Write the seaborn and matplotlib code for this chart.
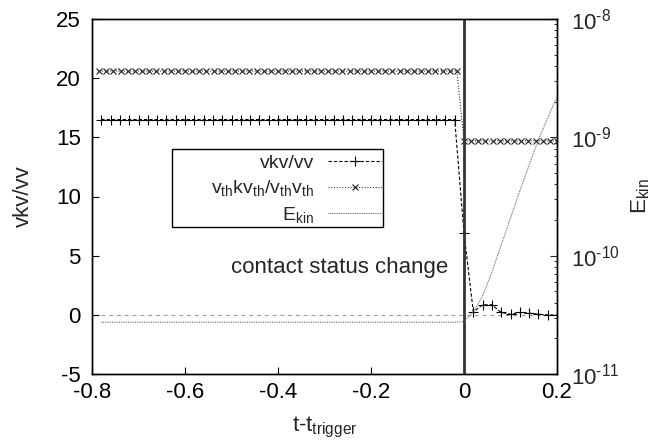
import matplotlib
matplotlib.use("Agg")
import matplotlib.pyplot as plt
import numpy as np
import pandas as pd
import seaborn as sns
from matplotlib.patches import Rectangle
from matplotlib.lines import Line2D
from matplotlib.ticker import FixedLocator, FixedFormatter, LogLocator, NullFormatter

# ---------------- data ----------------
# vkv/vv and E_kin sampled every 0.02
t_pre = [-0.78, -0.76, -0.74, -0.72, -0.70, -0.68, -0.66, -0.64, -0.62, -0.60,
         -0.58, -0.56, -0.54, -0.52, -0.50, -0.48, -0.46, -0.44, -0.42, -0.40,
         -0.38, -0.36, -0.34, -0.32, -0.30, -0.28, -0.26, -0.24, -0.22, -0.20,
         -0.18, -0.16, -0.14, -0.12, -0.10, -0.08, -0.06, -0.04, -0.02]
t_post = [0.0, 0.02, 0.04, 0.06, 0.08, 0.10, 0.12, 0.14, 0.16, 0.18, 0.20]

vkv_pre = [16.5] * len(t_pre)
vkv_post = [6.9, 0.25, 0.85, 0.85, 0.2, 0.05, 0.2, 0.15, 0.05, 0.0, -0.02]

ekin_pre = [2.74e-11] * len(t_pre)
ekin_post = [2.77e-11, 3.34e-11, 4.56e-11, 7.28e-11, 1.23e-10, 2.08e-10,
             3.52e-10, 5.85e-10, 9.51e-10, 1.46e-9, 2.2e-9]

# v_th k v_th / v_th v_th sampled on a finer grid
t_vth_pre = [-0.7846, -0.7692, -0.7538, -0.7385, -0.7231, -0.7077, -0.6923,
             -0.6769, -0.6615, -0.6462, -0.6308, -0.6154, -0.6000, -0.5846,
             -0.5692, -0.5538, -0.5385, -0.5231, -0.5077, -0.4923, -0.4769,
             -0.4615, -0.4462, -0.4308, -0.4154, -0.4000, -0.3846, -0.3692,
             -0.3538, -0.3385, -0.3231, -0.3077, -0.2923, -0.2769, -0.2615,
             -0.2462, -0.2308, -0.2154, -0.2000, -0.1846, -0.1692, -0.1538,
             -0.1385, -0.1231, -0.1077, -0.0923, -0.0769, -0.0615, -0.0462,
             -0.0308, -0.0154]
t_vth_post = [0.0, 0.0154, 0.0308, 0.0462, 0.0615, 0.0769, 0.0923, 0.1077,
              0.1231, 0.1385, 0.1538, 0.1692, 0.1846, 0.2000]
vth_pre = [20.6] * len(t_vth_pre)
vth_post = [14.7] * len(t_vth_post)

zero_ref = [0.0] * (len(t_pre) + len(t_post))

xtick_vals = [-0.8, -0.6, -0.4, -0.2, 0.0, 0.2]
xtick_labels = ["-0.8", "-0.6", "-0.4", "-0.2", "0", "0.2"]
ytick_vals = [-5, 0, 5, 10, 15, 20, 25]
ytick_labels = ["-5", "0", "5", "10", "15", "20", "25"]
y2tick_vals = [1e-11, 1e-10, 1e-9, 1e-8]
y2tick_labels = ["10$^{\u201011}$", "10$^{\u201010}$", "10$^{\u20109}$", "10$^{\u20108}$"]

legend_labels = ["vkv/vv",
                 r"v$_{\mathrm{th}}$kv$_{\mathrm{th}}$/v$_{\mathrm{th}}$v$_{\mathrm{th}}$",
                 r"E$_{\mathrm{kin}}$"]
annotation = "contact status change"

# ---------------- style ----------------
sns.set_style("ticks")
plt.rcParams["font.family"] = ["Liberation Sans", "DejaVu Sans"]
plt.rcParams["mathtext.fontset"] = "custom"
plt.rcParams["mathtext.rm"] = "Liberation Sans"
plt.rcParams["mathtext.it"] = "Liberation Sans:italic"
plt.rcParams["mathtext.bf"] = "Liberation Sans:bold"
plt.rcParams["axes.unicode_minus"] = False
FS = 16
LFS = 14

t_all = t_pre + t_post
df = pd.DataFrame({
    "t": t_all,
    "vkv": vkv_pre + vkv_post,
    "ekin": ekin_pre + ekin_post,
    "zero": zero_ref,
})
df_vth = pd.DataFrame({"t": t_vth_pre + t_vth_post, "vth": vth_pre + vth_post})

fig = plt.figure(figsize=(6.65, 4.42), dpi=100)
ax = fig.add_axes([92 / 665, 1 - 374 / 442, 465 / 665, 355 / 442])
ax2 = ax.twinx()

lw = 0.8
dash_vkv = (0, (3.0, 1.8))
dot_vth = (0, (0.9, 1.6))
dot_ekin = (0, (0.8, 0.8))
zero_style = (0, (3.5, 3.5))

sns.lineplot(data=df, x="t", y="zero", ax=ax, color="#9a9a9a", lw=0.8,
             linestyle=zero_style, sort=False, legend=False)
sns.lineplot(data=df, x="t", y="vkv", ax=ax, color="black", lw=lw,
             linestyle=dash_vkv, marker="+", markersize=6.5, markeredgewidth=0.8,
             markeredgecolor="black", sort=False, legend=False)
sns.lineplot(data=df_vth, x="t", y="vth", ax=ax, color="#222222", lw=lw,
             linestyle=dot_vth, marker="x", markersize=4.0, markeredgewidth=0.8,
             markeredgecolor="#222222", sort=False, legend=False)
sns.lineplot(data=df, x="t", y="ekin", ax=ax2, color="#666666", lw=0.8,
             linestyle=dot_ekin, sort=False, legend=False)

ax.axvline(0.0, color="#333333", lw=2.0, zorder=5)

# left axis
ax.set_xlim(-0.8, 0.2)
ax.set_ylim(-5, 25)
ax.xaxis.set_major_locator(FixedLocator(xtick_vals))
ax.xaxis.set_major_formatter(FixedFormatter(xtick_labels))
ax.yaxis.set_major_locator(FixedLocator(ytick_vals))
ax.yaxis.set_major_formatter(FixedFormatter(ytick_labels))
ax.tick_params(axis="both", direction="in", length=5, width=0.8, labelsize=FS,
               colors="black", pad=8)
ax.tick_params(axis="x", top=False, pad=6)
ax.tick_params(axis="y", right=False)
ax.set_xlabel(r"t-t$_{\mathrm{trigger}}$", fontsize=FS, labelpad=8)
ax.set_ylabel("vkv/vv", fontsize=FS, labelpad=16)

# right axis
ax2.set_yscale("log")
ax2.set_ylim(1e-11, 1e-8)
ax2.yaxis.set_major_locator(FixedLocator(y2tick_vals))
ax2.yaxis.set_major_formatter(FixedFormatter(y2tick_labels))
ax2.yaxis.set_minor_locator(LogLocator(base=10, subs=np.arange(2, 10), numticks=10))
ax2.yaxis.set_minor_formatter(NullFormatter())
ax2.tick_params(axis="y", which="major", direction="in", length=5, width=0.8,
                labelsize=FS, pad=10)
ax2.tick_params(axis="y", which="minor", direction="in", length=2.5, width=0.7)
ax2.set_ylabel(r"E$_{\mathrm{kin}}$", fontsize=FS, labelpad=7)
ax2.set_xlabel("")
ax2.xaxis.label.set_visible(False)

for a in (ax, ax2):
    for s in a.spines.values():
        s.set_linewidth(1.0)
        s.set_color("black")
        s.set_visible(True)

ax.text(-0.034, 4.0, annotation, fontsize=FS, ha="right", va="center", zorder=6)

# legend
handles = [
    Line2D([], [], color="black", lw=lw, linestyle=dash_vkv, marker="+",
           markersize=6.5, markeredgewidth=0.8),
    Line2D([], [], color="#222222", lw=lw, linestyle=dot_vth, marker="x",
           markersize=4.0, markeredgewidth=0.8),
    Line2D([], [], color="#666666", lw=0.8, linestyle=dot_ekin),
]
leg = ax2.legend(handles, legend_labels, loc="upper right",
                 bbox_to_anchor=((382 - 92) / 465, (374 - 154) / 355),
                 frameon=False, markerfirst=False, numpoints=1,
                 handlelength=2.8, handletextpad=0.7, labelspacing=0.35,
                 borderpad=0.0, borderaxespad=0.0, fontsize=LFS)
rect = Rectangle(((172 - 92) / 465, (374 - 227) / 355), (383 - 172) / 465,
                 (227 - 149) / 355, transform=ax2.transAxes, fill=False,
                 edgecolor="black", lw=1.0, zorder=10)
ax2.add_patch(rect)

fig.savefig("out.png", dpi=100)
